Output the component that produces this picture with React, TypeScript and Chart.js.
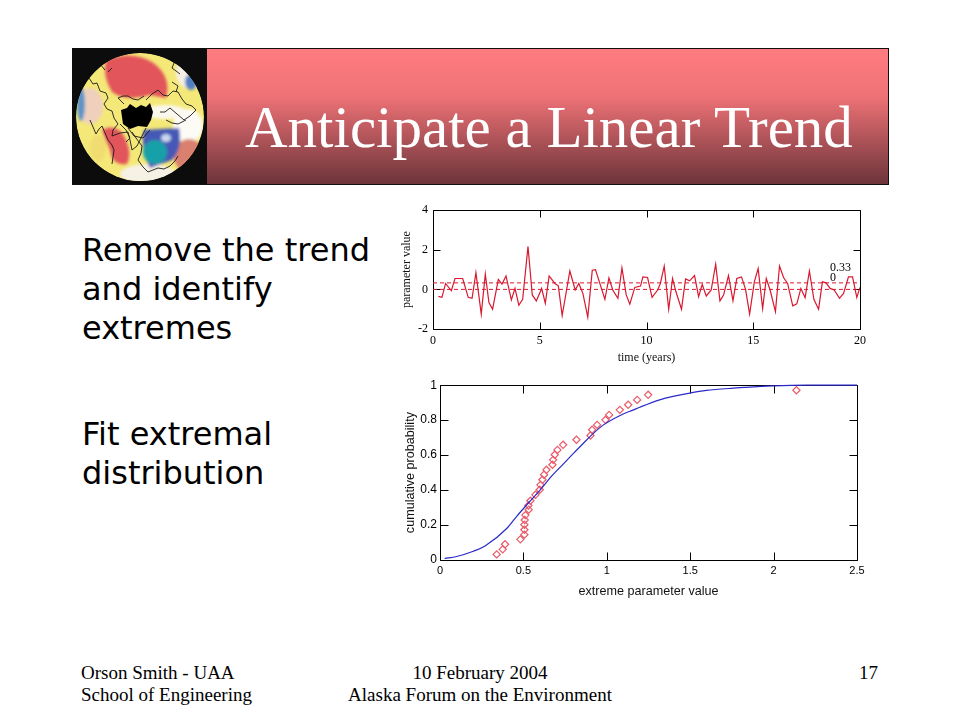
import React, { useEffect, useRef } from "react";
import { Chart, registerables } from "chart.js";

Chart.register(...registerables);

const slideTitle = "Anticipate a Linear Trend";
const bodyTop = ["Remove the trend", "and identify", "extremes"];
const bodyBottom = ["Fit extremal", "distribution"];
const footerLeft = ["Orson Smith - UAA", "School of Engineering"];
const footerCenter = ["10 February 2004", "Alaska Forum on the Environment"];
const footerRight = "17";

const timeYears = [0.25,0.42,0.59,0.86,1.03,1.39,1.65,1.83,2.01,2.26,2.45,2.62,2.79,3.06,3.23,3.42,3.67,3.84,4.02,4.2,4.45,4.65,4.84,5.09,5.26,5.44,5.71,5.87,6.05,6.41,6.66,6.83,7.02,7.25,7.46,7.61,8.05,8.24,8.42,8.66,8.85,9.05,9.22,9.45,9.72,9.83,10.05,10.26,10.52,10.65,10.83,11.04,11.22,11.38,11.64,11.83,12.02,12.25,12.44,12.61,12.8,13.03,13.24,13.44,13.61,13.84,14.05,14.23,14.45,14.64,14.83,15.05,15.23,15.44,15.61,15.79,16.04,16.23,16.42,16.61,16.85,17.04,17.23,17.43,17.63,17.84,18.06,18.24,18.41,18.6,18.79,19.04,19.23,19.46,19.65,19.85,20];
const paramValues = [-0.35,-0.4,0.3,-0.07,0.55,0.55,-0.4,-0.45,0.85,-1.25,0.77,-0.67,-1,0.5,0.27,0.68,-0.53,0.05,-0.8,-0.5,2.17,-0.28,-0.58,0.05,-0.7,0.68,0.3,0.18,-1.32,0.93,-0.03,0.3,-0.2,-1.4,0.97,1,-0.5,0.58,-0.03,-0.45,1.08,-0.28,-0.75,0.1,0.17,0.63,0.6,-0.4,-0.03,0.3,1.17,-1,0.55,-0.12,-1,0.53,0.43,0.7,-0.37,0.25,-0.33,-0.03,1.27,-0.58,-0.28,0.7,-0.57,0.55,0.63,0,-1.25,0.38,1.05,-0.97,0.55,-0.03,-1.12,1.18,0.6,0.3,-0.83,-0.73,0.05,-0.42,0.93,-0.5,-1,0.38,0.33,0.05,-0.03,-0.45,-0.2,0.63,0.63,-0.4,0.1];
const trendSpan = [0, 20];
const thresholdLevel = 0.33;
const zeroLevel = 0;
const timeTicks = [0, 5, 10, 15, 20];
const paramTicks = [-2, 0, 2, 4];

const extremeValues = [0.34,0.376,0.39,0.482,0.506,0.506,0.506,0.508,0.512,0.532,0.53,0.542,0.572,0.598,0.602,0.614,0.624,0.638,0.674,0.678,0.688,0.704,0.738,0.818,0.902,0.912,0.942,0.992,1.014,1.078,1.128,1.182,1.248,2.137];
const empiricalProb = [0.032,0.061,0.09,0.118,0.145,0.173,0.202,0.229,0.257,0.288,0.312,0.339,0.373,0.402,0.43,0.459,0.488,0.516,0.545,0.573,0.602,0.63,0.659,0.688,0.712,0.745,0.773,0.802,0.83,0.859,0.888,0.916,0.945,0.971];
const fitX = [0.028,0.1,0.2,0.27,0.4,0.46,0.53,0.6,0.66,0.74,0.8,0.86,0.91,0.98,1.08,1.16,1.198,1.317,1.397,1.497,1.597,1.757,1.877,1.997,2.197,2.5];
const fitY = [0.008,0.02,0.05,0.08,0.18,0.25,0.326,0.4,0.47,0.55,0.61,0.668,0.716,0.773,0.827,0.859,0.874,0.916,0.936,0.955,0.97,0.983,0.99,0.996,1,1];
const extremeTicks = [0, 0.5, 1, 1.5, 2, 2.5];
const probTicks = [0, 0.2, 0.4, 0.6, 0.8, 1];

const zip = (xs: number[], ys: number[]) => xs.map((x, i) => ({ x, y: ys[i] }));

const framePlugin = (tickLen: number) => ({
  id: "frame",
  beforeDatasetsDraw(chart: any) {
    const { ctx, chartArea: a, scales } = chart;
    ctx.save();
    ctx.strokeStyle = "#000";
    ctx.lineWidth = 1;
    ctx.beginPath();
    const l = Math.round(a.left) + 0.5, r = Math.round(a.right) + 0.5;
    const t = Math.round(a.top) + 0.5, b = Math.round(a.bottom) + 0.5;
    ctx.rect(l, t, r - l, b - t);
    scales.x.ticks.forEach((k: any) => {
      const p = Math.round(scales.x.getPixelForValue(k.value)) + 0.5;
      ctx.moveTo(p, t); ctx.lineTo(p, t + tickLen);
      ctx.moveTo(p, b); ctx.lineTo(p, b - tickLen);
    });
    scales.y.ticks.forEach((k: any) => {
      const p = Math.round(scales.y.getPixelForValue(k.value)) + 0.5;
      ctx.moveTo(l, p); ctx.lineTo(l + tickLen, p);
      ctx.moveTo(r, p); ctx.lineTo(r - tickLen, p);
    });
    ctx.stroke();
    ctx.restore();
  },
});

const levelLabels = {
  id: "levelLabels",
  afterDatasetsDraw(chart: any) {
    const { ctx, scales } = chart;
    ctx.save();
    ctx.fillStyle = "#000";
    ctx.font = "12px 'Liberation Serif'";
    ctx.textAlign = "left";
    ctx.textBaseline = "bottom";
    const x = scales.x.getPixelForValue(18.6);
    ctx.fillText(String(thresholdLevel), x, scales.y.getPixelForValue(thresholdLevel) - 9);
    ctx.fillText(String(zeroLevel), x, scales.y.getPixelForValue(thresholdLevel) + 1);
    ctx.restore();
  },
};

const axis = (
  ticks: number[],
  title: string,
  font: string,
  size: number,
  fit: (s: any) => void,
  padding: number,
  titleSize: number,
  titlePad: any = 0
) => ({
  type: "linear",
  min: ticks[0],
  max: ticks[ticks.length - 1],
  afterBuildTicks: (s: any) => { s.ticks = ticks.map((value) => ({ value })); },
  afterFit: fit,
  grid: { display: false, drawTicks: false },
  border: { display: false },
  ticks: {
    autoSkip: false,
    maxRotation: 0,
    minRotation: 0,
    padding,
    color: "#000",
    font: { family: font, size },
    callback: (v: any) => String(v),
  },
  title: {
    display: true,
    text: title,
    color: "#111",
    padding: titlePad,
    font: { family: font, size: titleSize },
  },
});

function useChart(build: (c: HTMLCanvasElement) => Chart) {
  const ref = useRef<HTMLCanvasElement>(null);
  useEffect(() => {
    const c = build(ref.current!);
    return () => c.destroy();
  }, []);
  return ref;
}

const basePlugins = { legend: { display: false }, tooltip: { enabled: false }, title: { display: false } };

const txt = (left: number, top: number, s: React.CSSProperties): React.CSSProperties => ({
  position: "absolute", left, top, margin: 0, whiteSpace: "nowrap", ...s,
});

function Globe() {
  return (
    <svg width={135} height={136} viewBox="72 48 135 136" style={{ position: "absolute", left: 72, top: 48 }}>
      <defs>
        <clipPath id="disc"><circle cx={140} cy={117} r={64} /></clipPath>
        <filter id="soft" x="-30%" y="-30%" width="160%" height="160%"><feGaussianBlur stdDeviation="1.8" /></filter>
      </defs>
      <rect x={72} y={48} width={135} height={136} fill="#0c0c0c" />
      <g clipPath="url(#disc)">
        <circle cx={140} cy={117} r={64} fill="#f4e878" />
        <g filter="url(#soft)">
          <ellipse cx={188} cy={126} rx={15} ry={17} fill="#fdfbf5" />
          <ellipse cx={165} cy={112} rx={22} ry={7} fill="#fbf8ee" />
          <ellipse cx={190} cy={72} rx={14} ry={17} fill="#f7efe6" />
          <ellipse cx={90} cy={106} rx={13} ry={18} fill="#efd0bc" />
          <ellipse cx={81} cy={104} rx={4} ry={17} fill="#5d93c9" />
          <ellipse cx={191} cy={82} rx={6} ry={8} fill="#4f7fc2" />
          <path d="M106 60 Q132 50 152 62 Q172 76 166 98 L150 95 Q126 102 112 92 Q102 76 106 60Z" fill="#e2555a" />
          <path d="M102 130 Q118 122 126 140 Q132 154 127 164 Q112 166 110 150 Q105 140 102 130Z" fill="#e2555a" />
          <ellipse cx={189} cy={156} rx={15} ry={17} fill="#d9806e" />
          <ellipse cx={148} cy={174} rx={28} ry={10} fill="#f6f1e5" />
          <ellipse cx={98} cy={148} rx={8} ry={13} fill="#f0dc70" />
          <path d="M144 130 L179 128 Q183 148 172 160 L150 168 Q140 150 144 130Z" fill="#4458b6" />
          <ellipse cx={155} cy={152} rx={12} ry={12} fill="#17a0a8" />
          <ellipse cx={166} cy={138} rx={5} ry={4} fill="#c8d8f0" />
        </g>
        <path d="M121 110 L127 108 L130 104 L136 108 L141 105 L146 107 L150 103 L153 112 L151 120 L147 127 L138 126 L130 129 L123 124Z" fill="#000" />
        <g fill="none" stroke="#1a1a1a" strokeWidth={0.9} strokeLinejoin="round">
          <path d="M89 78 L93 84 L97 83 L100 91 L106 93 L108 98 L104 104 L107 109 L112 111 L114 118 L118 124 L113 130 L112 136 L120 133 L128 132 L130 140 L132 150 L137 146 L140 140 L146 128" />
          <path d="M146 100 L152 94 L158 90 L163 95 L168 96 L173 91 L178 92 L182 99 L186 104 L192 106 L196 110 L190 116 L184 120 L177 114 L170 108 L165 112 L160 112" />
          <path d="M132 132 L136 138 L142 146 L141 153 L138 160 L143 167 L148 172 L153 170 L158 168 L164 169 L170 166 L175 161 L178 156" />
          <path d="M90 120 L93 127 L96 134 L99 129 L102 126 L105 133 L108 140 L112 145 L114 150 L113 157 L112 164" />
          <path d="M124 104 L120 100 L118 98 L123 96 L128 96 L133 99 L138 100 L144 96" />
          <path d="M176 58 L172 68 L176 71 L180 74 M166 120 L172 123 L178 124 L186 120" />
          <path d="M128 128 L134 136 L143 138 L150 130 M120 124 L126 130 L130 138 L126 142" />
          <path d="M100 64 L105 70 M108 72 L112 68 M172 82 L178 86 L176 92" />
        </g>
      </g>
    </svg>
  );
}

export default function App() {
  const topRef = useChart((el) =>
    new Chart(el, {
      type: "scatter",
      data: {
        datasets: [
          { data: zip(timeYears, paramValues), showLine: true, borderColor: "#d8182f", borderWidth: 1.2, pointRadius: 0 },
          { data: zip(trendSpan, [thresholdLevel, thresholdLevel]), showLine: true, borderColor: "#d8182f", borderWidth: 1, borderDash: [4, 3], pointRadius: 0 },
          { data: zip(trendSpan, [zeroLevel, zeroLevel]), showLine: true, borderColor: "#d8182f", borderWidth: 1, borderDash: [4, 3], pointRadius: 0 },
        ],
      },
      options: {
        animation: false,
        responsive: false,
        devicePixelRatio: 1,
        layout: { padding: { left: 5, top: 8, right: 15, bottom: 0 } },
        plugins: basePlugins,
        scales: {
          x: axis(timeTicks, "time (years)", "Liberation Serif", 12, (s) => { s.height = 41; }, 5, 12, { top: 0, bottom: 5 }),
          y: axis(paramTicks, "parameter value", "Liberation Serif", 12, (s) => { s.width = 33; }, 5, 12),
        },
      },
      plugins: [framePlugin(7), levelLabels],
    } as any)
  );

  const bottomRef = useChart((el) =>
    new Chart(el, {
      type: "scatter",
      data: {
        datasets: [
          { data: zip(fitX, fitY), showLine: true, cubicInterpolationMode: "monotone", borderColor: "#2a2ac8", borderWidth: 1.2, pointRadius: 0, clip: false },
          { data: zip(extremeValues, empiricalProb), showLine: false, pointStyle: "rectRot", pointRadius: 3.6, pointBorderWidth: 1.2, pointBorderColor: "#ea5a68", pointBackgroundColor: "transparent" },
        ],
      },
      options: {
        animation: false,
        responsive: false,
        devicePixelRatio: 1,
        layout: { padding: { left: 3, top: 8, right: 23, bottom: 0 } },
        plugins: basePlugins,
        scales: {
          x: axis(extremeTicks, "extreme parameter value", "Liberation Sans", 11, (s) => { s.height = 45; }, 4, 12.6, { top: 0, bottom: 6 }),
          y: axis(probTicks, "cumulative probability", "Liberation Sans", 12, (s) => { s.width = 37; }, 3, 12.6),
        },
      },
      plugins: [framePlugin(8)],
    } as any)
  );

  const bodyFont: React.CSSProperties = { fontFamily: "'DejaVu Sans'", fontSize: 32, lineHeight: "39px", color: "#000" };
  const footFont: React.CSSProperties = { fontFamily: "'Liberation Serif'", fontSize: 19, lineHeight: "22px", color: "#000" };

  return (
    <div style={{ position: "absolute", left: 0, top: 0, width: 960, height: 720, background: "#fff", overflow: "hidden" }}>
      <div style={{ position: "absolute", left: 72, top: 48, width: 815, height: 135, border: "1px solid #111", background: "linear-gradient(#ff7c80 0%, #ee7276 35%, #6c343a 100%)" }} />
      <Globe />
      <div style={txt(245, 90, { fontFamily: "'Liberation Serif'", fontSize: 59, lineHeight: "75px", color: "#fff" })}>{slideTitle}</div>

      <div style={txt(82, 231, bodyFont)}>{bodyTop.map((l) => <div key={l}>{l}</div>)}</div>
      <div style={txt(82, 415, bodyFont)}>{bodyBottom.map((l) => <div key={l}>{l}</div>)}</div>

      <canvas ref={topRef} width={480} height={172} style={{ position: "absolute", left: 395, top: 198 }} />
      <canvas ref={bottomRef} width={480} height={230} style={{ position: "absolute", left: 400, top: 375 }} />

      <div style={txt(81, 662, footFont)}>{footerLeft.map((l) => <div key={l}>{l}</div>)}</div>
      <div style={{ ...txt(280, 662, footFont), width: 400, textAlign: "center" }}>{footerCenter.map((l) => <div key={l}>{l}</div>)}</div>
      <div style={{ ...txt(778, 662, footFont), width: 100, textAlign: "right" }}>{footerRight}</div>
    </div>
  );
}
